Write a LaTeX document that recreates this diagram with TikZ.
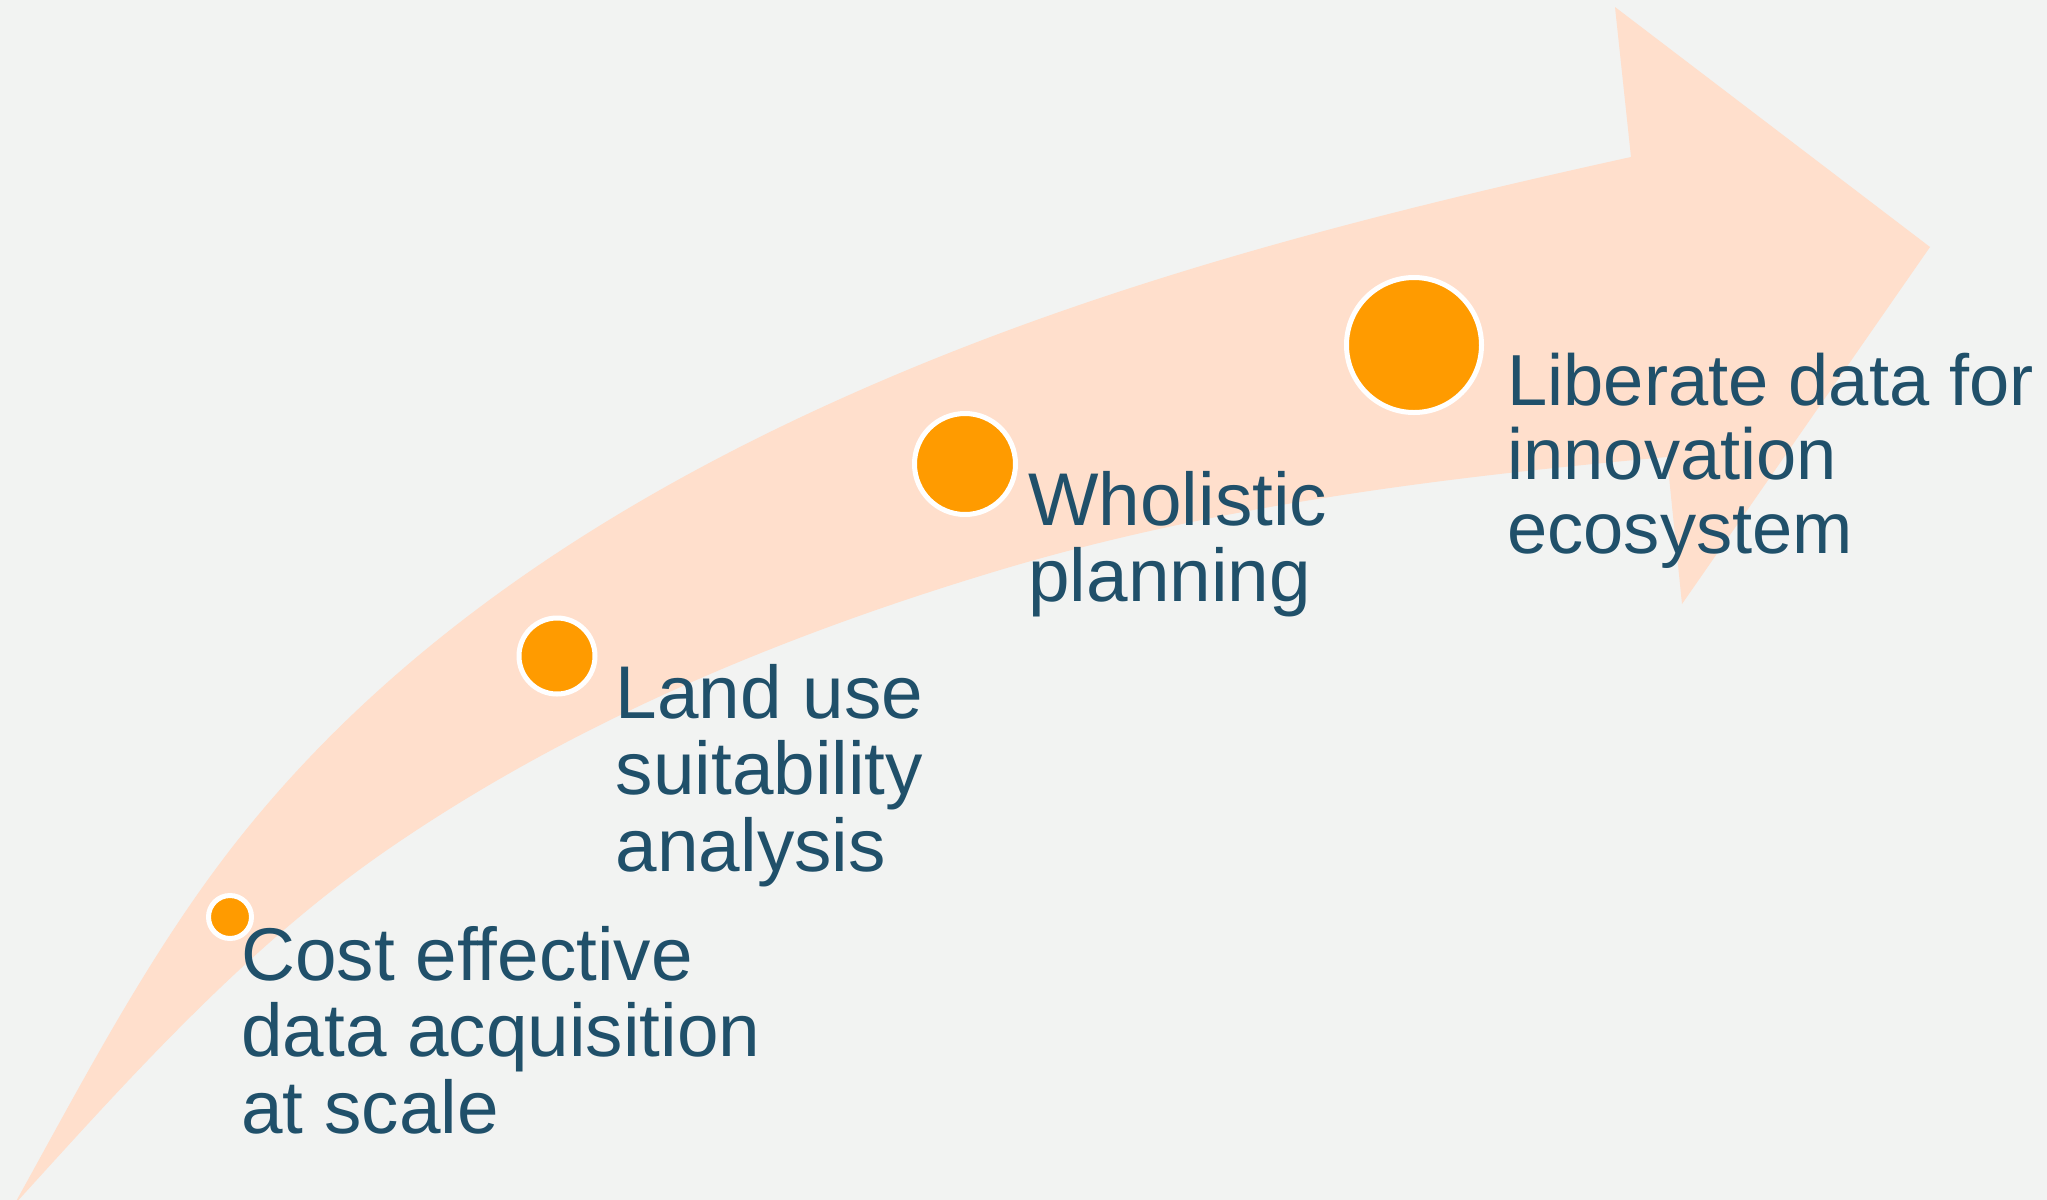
\documentclass[tikz,border=0pt]{standalone}
\usepackage{fontspec}
\setmainfont{Liberation Sans}
\definecolor{bgc}{RGB}{242,243,242}
\definecolor{peach}{RGB}{255,223,204}
\definecolor{dotc}{RGB}{255,155,0}
\definecolor{txtc}{RGB}{32,80,106}
\begin{document}
\begin{tikzpicture}[x=0.5pt,y=-0.5pt,
  dot/.style={circle,inner sep=0pt,fill=dotc,draw=white,line width=2.5pt},
  lbl/.style={anchor=base west,inner sep=0pt,text=txtc,font=\fontsize{37.35pt}{38.35pt}\selectfont},
  lblsmall/.style={lbl,font=\fontsize{36.15pt}{37.1pt}\selectfont}]
\useasboundingbox (0,0) rectangle (2047,1200);
\fill[bgc] (0,0) rectangle (2047,1200);
\begin{scope}
\clip (0,0) rectangle (2047,1200);
\fill[peach] (14,1205) .. controls (81,1084.4) and (146,959) .. (230,850)
  .. controls (400,630) and (643.2,480.8) .. (900,373)
  .. controls (1134.6,274.5) and (1382.4,211.7) .. (1631,157)
  -- (1615,7) -- (1930,247) -- (1682,604) -- (1667,457)
  .. controls (1442.9,477.3) and (1215.6,505.4) .. (1000,570)
  .. controls (784.4,634.6) and (572.2,722.2) .. (387,850)
  .. controls (245.4,947.7) and (129.8,1077.7) .. (14,1205)
  -- cycle;
\end{scope}
\node[dot,minimum size=21.5pt] (c1) at (230,917) {};
\node[dot,minimum size=38pt] (c2) at (557,656) {};
\node[dot,minimum size=50.5pt] (c3) at (965,464) {};
\node[dot,minimum size=67.5pt] (c4) at (1414,345) {};
\node[lbl] (t1) at (241,980) {\vtop{\hbox{Cost effective}\hbox{data acquisition}\hbox{at scale}}};
\node[lbl] (t2) at (615.5,718) {\vtop{\hbox{Land use}\hbox{suitability}\hbox{analysis}}};
\node[lbl] (t3) at (1028,525) {\vtop{\hbox{Wholistic}\hbox{planning}}};
\node[lblsmall] (t4) at (1507,405) {\vtop{\hbox{Liberate data for}\hbox{innovation}\hbox{ecosystem}}};
\end{tikzpicture}
\end{document}
